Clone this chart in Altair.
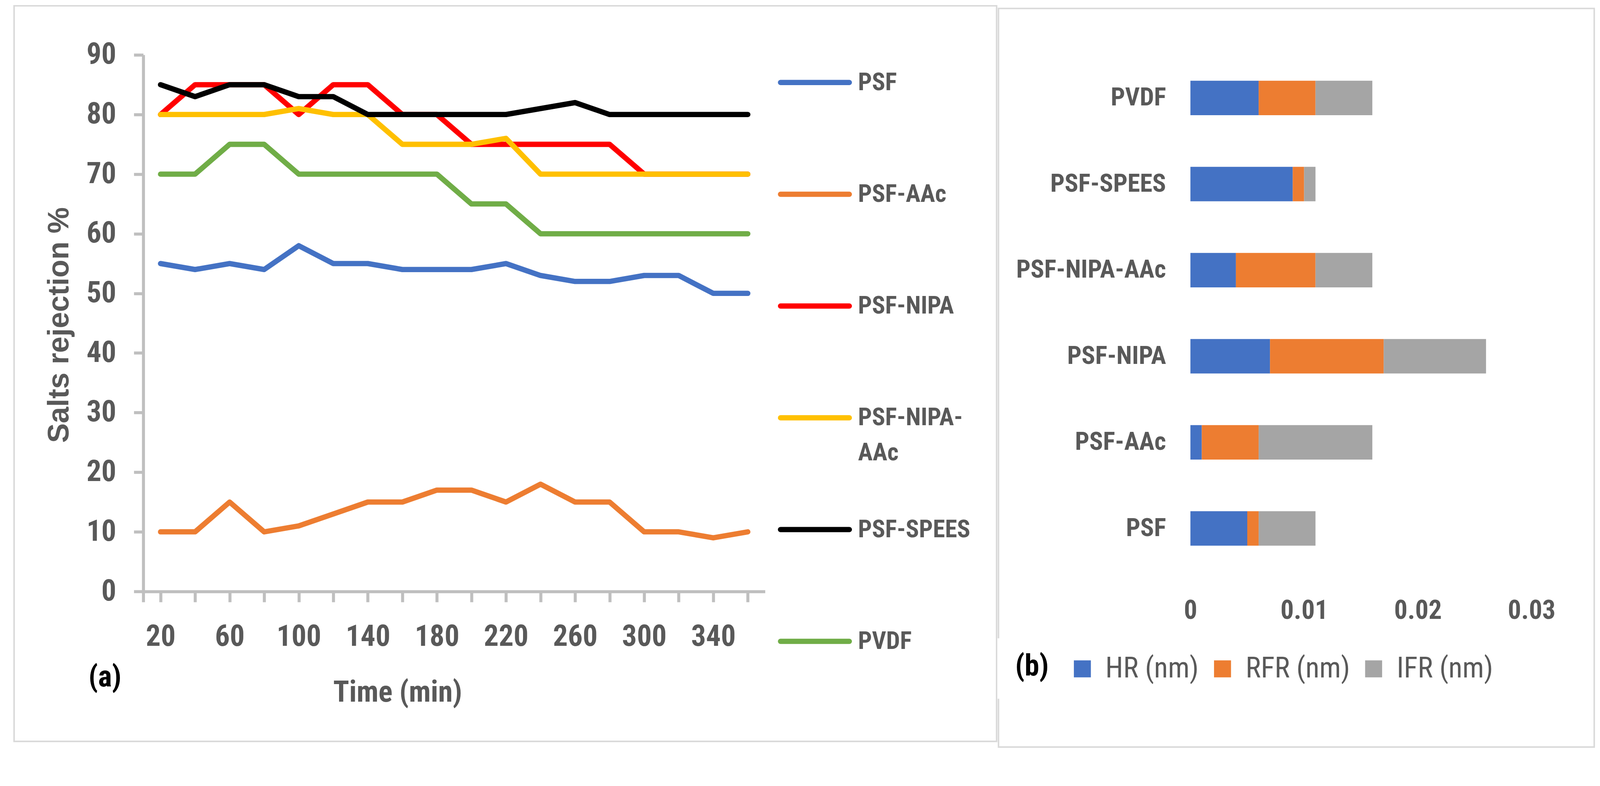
import altair as alt
import pandas as pd

# ---------------- data ----------------
times = [20, 40, 60, 80, 100, 120, 140, 160, 180, 200, 220, 240, 260, 280, 300, 320, 340, 360]
series_names = ["PSF", "PSF-AAc", "PSF-NIPA", "PSF-NIPA-AAc", "PSF-SPEES", "PVDF"]
series_colors = ["#4472C4", "#ED7D31", "#FF0000", "#FFC000", "#000000", "#70AD47"]
psf = [55, 54, 55, 54, 58, 55, 55, 54, 54, 54, 55, 53, 52, 52, 53, 53, 50, 50]
psf_aac = [10, 10, 15, 10, 11, 13, 15, 15, 17, 17, 15, 18, 15, 15, 10, 10, 9, 10]
psf_nipa = [80, 85, 85, 85, 80, 85, 85, 80, 80, 75, 75, 75, 75, 75, 70, 70, 70, 70]
psf_nipa_aac = [80, 80, 80, 80, 81, 80, 80, 75, 75, 75, 76, 70, 70, 70, 70, 70, 70, 70]
psf_spees = [85, 83, 85, 85, 83, 83, 80, 80, 80, 80, 80, 81, 82, 80, 80, 80, 80, 80]
pvdf = [70, 70, 75, 75, 70, 70, 70, 70, 70, 65, 65, 60, 60, 60, 60, 60, 60, 60]
y_ticks = [0, 10, 20, 30, 40, 50, 60, 70, 80, 90]

legend_line1 = ["PSF", "PSF-AAc", "PSF-NIPA", "PSF-NIPA-", "PSF-SPEES", "PVDF"]
legend_line2 = ["", "", "", "AAc", "", ""]

membranes = ["PSF", "PSF-AAc", "PSF-NIPA", "PSF-NIPA-AAc", "PSF-SPEES", "PVDF"]
bar_order = ["PVDF", "PSF-SPEES", "PSF-NIPA-AAc", "PSF-NIPA", "PSF-AAc", "PSF"]
hr = [0.005, 0.001, 0.007, 0.004, 0.009, 0.006]
rfr = [0.001, 0.005, 0.010, 0.007, 0.001, 0.005]
ifr = [0.005, 0.010, 0.009, 0.005, 0.001, 0.005]
bar_types = ["HR (nm)", "RFR (nm)", "IFR (nm)"]
bar_colors = ["#4472C4", "#ED7D31", "#A5A5A5"]
bar_ticks = [0, 0.01, 0.02, 0.03]

panel_labels = ["(a)", "(b)"]

# ---------------- tables ----------------
all_series = [psf, psf_aac, psf_nipa, psf_nipa_aac, psf_spees, pvdf]
line_rows = []
for name, vals in zip(series_names, all_series):
    for t, v in zip(times, vals):
        line_rows.append({"time": t, "value": v, "series": name})
line_df = pd.DataFrame(line_rows)

legend_df = pd.DataFrame({"series": series_names, "line1": legend_line1, "line2": legend_line2})

bar_rows = []
for i, m in enumerate(membranes):
    for k, (tname, vals) in enumerate(zip(bar_types, [hr, rfr, ifr])):
        bar_rows.append({"membrane": m, "type": tname, "value": vals[i], "ord": k})
bar_df = pd.DataFrame(bar_rows)

one_df = pd.DataFrame({"k": [0]})
lab_a_df = pd.DataFrame({"label": [panel_labels[0]]})
lab_b_df = pd.DataFrame({"label": [panel_labels[1]]})

# ---------------- style ----------------
FN = "Roboto Condensed, Roboto, sans-serif"
FONT_W = "Liberation Sans, Arial, sans-serif"
TXT = "#595959"
AX = "#BFBFBF"
BORDER = "#D9D9D9"

color_enc = alt.Color("series:N", scale=alt.Scale(domain=series_names, range=series_colors), legend=None)

x_enc = alt.X(
    "time:O",
    scale=alt.Scale(paddingInner=0, paddingOuter=0),
    axis=alt.Axis(
        title="Time (min)", bandPosition=0, tickExtra=True, labelAngle=0,
        labelExpr="(datum.value - 20) % 40 == 0 ? datum.label : ''",
        labelOverlap=False, labelFlush=False, labelLimit=1000,
        tickSize=28, tickWidth=8, tickColor=AX, domainColor=AX, domainWidth=8,
        labelFont=FN, labelFontSize=78, labelFontWeight="bold", labelColor=TXT,
        labelPadding=53, labelBaseline="top", grid=False,
        titleFont=FN, titleFontSize=78, titleFontWeight="bold", titleColor=TXT,
        titleX=673, titleY=268, titleBaseline="middle", titleAlign="center",
    ),
)
y_enc = alt.Y(
    "value:Q",
    scale=alt.Scale(domain=[0, 90], nice=False),
    axis=alt.Axis(
        values=y_ticks, title="Salts rejection %", grid=False,
        tickSize=25, tickWidth=8, tickColor=AX, domainColor=AX, domainWidth=8,
        labelFont=FN, labelFontSize=78, labelFontWeight="bold", labelColor=TXT,
        labelPadding=47, labelFlush=False, labelLimit=1000,
        titleFont=FONT_W, titleFontSize=78, titleFontWeight="bold", titleColor=TXT,
        titleX=-222, titleY=715, titleAngle=270, titleBaseline="middle", titleAlign="center",
    ),
)

border_a = alt.Chart(one_df).mark_rect(fill="white", fillOpacity=0, stroke=BORDER, strokeWidth=4).encode(
    x=alt.value(-342), x2=alt.value(2259), y=alt.value(-130), y2=alt.value(1818)
)

line_layers = []
for name in series_names:
    line_layers.append(
        alt.Chart(line_df).transform_filter(alt.datum.series == name)
        .mark_line(strokeWidth=14, strokeCap="round", strokeJoin="round")
        .encode(x=x_enc, y=y_enc, color=color_enc)
    )
lines = alt.layer(*line_layers)

leg_y = alt.Y("series:N", sort=series_names,
              scale=alt.Scale(type="point", domain=series_names, range=[73, 1553], padding=0),
              axis=None)
leg_rule = alt.Chart(legend_df).mark_rule(strokeWidth=14, strokeCap="round").encode(
    x=alt.value(1687), x2=alt.value(1869), y=leg_y, color=color_enc
)
leg_text1 = alt.Chart(legend_df).mark_text(
    align="left", baseline="middle", font=FN, fontSize=65, fontWeight="bold", color=TXT
).encode(x=alt.value(1892), y=leg_y, text="line1:N")
leg_text2 = alt.Chart(legend_df).transform_filter("datum.line2 != ''").mark_text(
    align="left", baseline="middle", font=FN, fontSize=65, fontWeight="bold", color=TXT, dy=93
).encode(x=alt.value(1892), y=leg_y, text="line2:N")

label_a = alt.Chart(lab_a_df).mark_text(
    align="left", baseline="middle", font=FN, fontSize=78, fontWeight="bold", color="black"
).encode(x=alt.value(-145), y=alt.value(1650), text="label:N")

left = alt.layer(border_a, lines, leg_rule, leg_text1, leg_text2, label_a).resolve_scale(
    y="independent"
).properties(width=1646, height=1421)

# ---------------- right panel ----------------
border_b = alt.Chart(one_df).mark_rect(fill="white", fillOpacity=0, stroke=BORDER, strokeWidth=4).encode(
    x=alt.value(-508), x2=alt.value(1069), y=alt.value(-123), y2=alt.value(1833)
)
gap_b = alt.Chart(one_df).mark_rect(fill="white").encode(
    x=alt.value(-511), x2=alt.value(-504), y=alt.value(1545), y2=alt.value(1705)
)
bars = alt.Chart(bar_df).mark_bar().encode(
    y=alt.Y(
        "membrane:N", sort=bar_order,
        scale=alt.Scale(paddingInner=0.6, paddingOuter=0.3),
        axis=alt.Axis(title=None, ticks=False, tickSize=0, domain=False, grid=False,
                      labelFont=FN, labelFontSize=67, labelFontWeight="bold", labelColor=TXT,
                      labelPadding=65, labelLimit=1000),
    ),
    x=alt.X(
        "value:Q", stack="zero",
        scale=alt.Scale(domain=[0, 0.03], nice=False),
        axis=alt.Axis(values=bar_ticks, format=".2~f", title=None, grid=False, domain=False,
                      ticks=False, tickSize=0, labelFlush=False, labelLimit=1000,
                      labelFont=FN, labelFontSize=70, labelFontWeight="bold", labelColor=TXT,
                      labelPadding=70, labelBaseline="top"),
    ),
    color=alt.Color(
        "type:N", scale=alt.Scale(domain=bar_types, range=bar_colors),
        legend=alt.Legend(title=None, orient="none", legendX=-324, legendY=1588,
                          direction="horizontal", symbolType="square", symbolSize=2025,
                          symbolStrokeWidth=0, labelFont=FN, labelFontSize=76,
                          labelFontWeight="normal", labelColor=TXT, labelOffset=23,
                          columnPadding=24, padding=0, labelLimit=1000),
    ),
    order=alt.Order("ord:Q"),
)
label_b = alt.Chart(lab_b_df).mark_text(
    align="left", baseline="middle", font=FN, fontSize=78, fontWeight="bold", color="black"
).encode(x=alt.value(-464), y=alt.value(1621), text="label:N")

right = alt.layer(border_b, gap_b, bars, label_b).properties(width=903, height=1368)

chart = alt.hconcat(left, right, spacing=0).resolve_scale(color="independent").properties(
    padding={"left": 27, "top": -28, "right": 5, "bottom": 5}
).configure_view(strokeWidth=0)

chart.save("out.html", embed_options={"renderer": "svg", "actions": False})
